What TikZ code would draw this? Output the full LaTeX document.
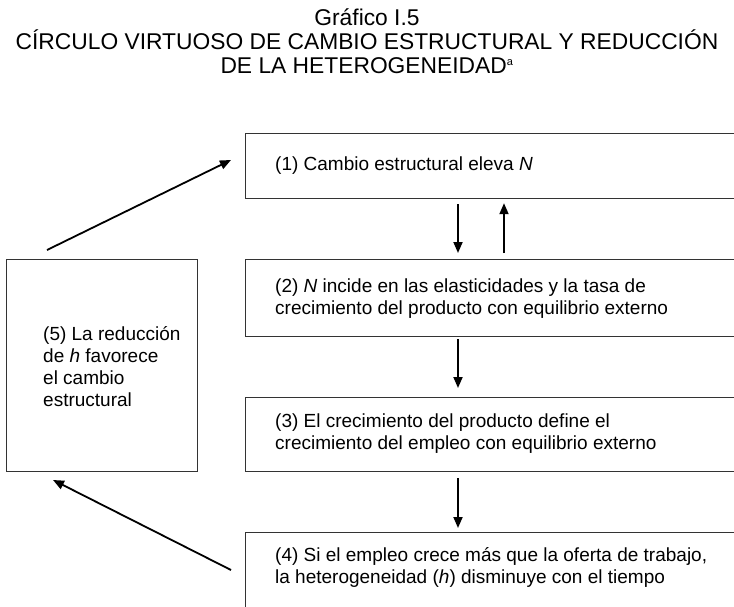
\documentclass[tikz,border=0pt]{standalone}
\usepackage{fontspec}
\setmainfont{Liberation Sans}
\usetikzlibrary{arrows.meta}

\begin{document}
\begin{tikzpicture}
		[x=1pt, y=-1pt,
		main node/.style={rectangle, draw=black!80, line width=1.2pt, anchor=north west, inner sep=0pt},
		box text/.style={anchor=west, align=left, inner sep=0pt, font=\fontsize{19}{22}\selectfont},
		arrow/.style={-{Triangle[length=11pt, width=9pt]}, line width=1.8pt}]
		\useasboundingbox (0,0) rectangle (734,606);

		\node[align=center, font=\fontsize{22.8}{24}\selectfont] (title) at (367,41)
			{Gráfico I.5\\CÍRCULO VIRTUOSO DE CAMBIO ESTRUCTURAL Y REDUCCIÓN\\DE LA HETEROGENEIDAD\textsuperscript{\fontsize{11}{11}\selectfont a}};

		% boxes on the right run off the page
		\node[main node, minimum width=495pt, minimum height=65pt] (1) at (245,133) {};
		\node[main node, minimum width=495pt, minimum height=77pt] (2) at (245,259) {};
		\node[main node, minimum width=495pt, minimum height=74pt] (3) at (245,397) {};
		\node[main node, minimum width=495pt, minimum height=80pt] (4) at (245,532) {};
		\node[main node, minimum width=191pt, minimum height=212pt] (5) at (6,259) {};

		\node[box text] (t1) at (275,166) {(1) Cambio estructural eleva \textit{N}};
		\node[box text] (t2) at (275,299) {(2) \textit{N} incide en las elasticidades y la tasa de\\crecimiento del producto con equilibrio externo};
		\node[box text] (t3) at (275,434) {(3) El crecimiento del producto define el\\crecimiento del empleo con equilibrio externo};
		\node[box text] (t4) at (275,567) {(4) Si el empleo crece más que la oferta de trabajo,\\la heterogeneidad (\textit{h}) disminuye con el tiempo};
		\node[box text] (t5) at (43,367) {(5) La reducción\\de \textit{h} favorece\\el cambio\\estructural};

		\coordinate (xa) at (458,0);
		\coordinate (xb) at (504,0);
		\coordinate (from5) at (47,250);
		\coordinate (to1) at (231,160);
		\coordinate (from4) at (231,570);
		\coordinate (to5) at (53,480);

		\draw[arrow, shorten <=5pt, shorten >=6pt] (xa |- 1.south) -- (xa |- 2.north);
		\draw[arrow, shorten <=6pt, shorten >=4pt] (xb |- 2.north) -- (xb |- 1.south);
		\draw[arrow, shorten <=2pt, shorten >=9pt] (xa |- 2.south) -- (xa |- 3.north);
		\draw[arrow, shorten <=6pt, shorten >=4pt] (xa |- 3.south) -- (xa |- 4.north);
		\draw[arrow] (from5) -- (to1);
		\draw[arrow] (from4) -- (to5);
\end{tikzpicture}
\end{document}
